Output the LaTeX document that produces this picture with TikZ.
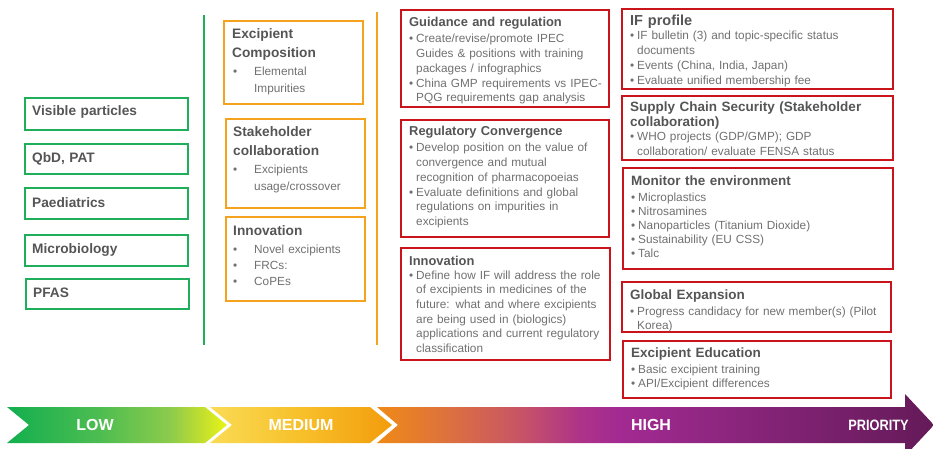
\documentclass[tikz,border=0pt]{standalone}
\usepackage{fontspec}
\setmainfont{Liberation Sans}
\usepackage{graphicx}

\definecolor{prgreen}{HTML}{1FAF5A}
\definecolor{prorange}{HTML}{F5A31F}
\definecolor{prred}{HTML}{C9141C}
\definecolor{ttlgray}{HTML}{555555}
\definecolor{txtgray}{HTML}{707070}
% colours of the priority band
\definecolor{lowA}{HTML}{12AF4F}
\definecolor{lowB}{HTML}{4DBD51}
\definecolor{lowC}{HTML}{8CCB4C}
\definecolor{lowD}{HTML}{C0DE30}
\definecolor{lowE}{HTML}{E8F514}
\definecolor{medA}{HTML}{FADB55}
\definecolor{medB}{HTML}{F7C02A}
\definecolor{medC}{HTML}{F39C0C}
\definecolor{hiA}{HTML}{EF8A16}
\definecolor{hiB}{HTML}{DC7040}
\definecolor{hiC}{HTML}{C75466}
\definecolor{hiD}{HTML}{AE3388}
\definecolor{hiE}{HTML}{A22A92}
\definecolor{hiF}{HTML}{862478}
\definecolor{hiG}{HTML}{641A58}

\pgfdeclarehorizontalshading{lowshade}{100bp}{color(0bp)=(lowA); color(25bp)=(lowA); color(46bp)=(lowB); color(62bp)=(lowC); color(69bp)=(lowD); color(75bp)=(lowE); color(100bp)=(lowE)}
\pgfdeclarehorizontalshading{medshade}{100bp}{color(0bp)=(medA); color(25bp)=(medA); color(50bp)=(medB); color(75bp)=(medC); color(100bp)=(medC)}
\pgfdeclarehorizontalshading{highshade}{100bp}{color(0bp)=(hiA); color(25bp)=(hiA); color(31.6bp)=(hiB); color(37.8bp)=(hiC); color(43.2bp)=(hiD); color(46.8bp)=(hiE); color(59.4bp)=(hiF); color(75bp)=(hiG); color(100bp)=(hiG)}

% one bullet item: bullet, then hanging lines (end each item with \par)
\newcommand\bul[1][7pt]{\hangindent=#1\relax\hangafter=1\relax\makebox[#1][l]{\textbullet}}

\begin{document}
\begin{tikzpicture}[x=1pt,y=-1pt,
    gbox/.style={draw=prgreen,line width=1.6pt},
    obox/.style={draw=prorange,line width=1.6pt},
    rbox/.style={draw=prred,line width=1.6pt},
    ttl/.style={anchor=base west,inner sep=0pt,text width=#1,align=left,text=ttlgray,font=\bfseries\fontsize{12.9}{15}\selectfont},
    ttl/.default=200,
    big/.style={font=\bfseries\fontsize{13.7}{19}\selectfont},
    txt/.style={anchor=base west,inner sep=0pt,text width=#1,align=left,text=txtgray,font=\fontsize{11.8}{14.7}\selectfont},
    txt/.default=260,
    band/.style={text=white,inner sep=0pt,font=\bfseries\fontsize{16}{16}\selectfont}]
  \useasboundingbox (0,0) rectangle (933,449);
  % \draw[step=50, gray, very thin] (0,0) grid (933,449);

  % low
  \draw[gbox] (25,98) rectangle (188,130);
  \node[ttl=150,big] (vis) at (32,116) {Visible particles};
  \draw[gbox] (25,144) rectangle (188,174);
  \node[ttl=150,big] (qbd) at (32,163) {QbD, PAT};
  \draw[gbox] (25,188) rectangle (188,219);
  \node[ttl=150,big] (paed) at (32,207) {Paediatrics};
  \draw[gbox] (25,235) rectangle (188,266);
  \node[ttl=150,big] (micro) at (32,253) {Microbiology};
  \draw[gbox] (26,279) rectangle (189,309);
  \node[ttl=150,big] (pfas) at (33,297) {PFAS};
  \draw[prgreen,line width=2.6pt] (204,15) -- (204,345);

  % medium
  \draw[obox] (224,21) rectangle (363,104);
  \node[ttl=130,big] (compT) at (232,39) {Excipient\\Composition};
  \node[txt=130,font=\fontsize{11.8}{16.5}\selectfont] (compB) at (233,76) {\bul[21pt]Elemental\newline Impurities\par};
  \draw[obox] (226,119) rectangle (365,208);
  \node[ttl=130,big] (stakeT) at (233,137) {Stakeholder\\collaboration};
  \node[txt=130,font=\fontsize{11.8}{16.3}\selectfont] (stakeB) at (233,174) {\bul[21pt]Excipients\newline usage/crossover\par};
  \draw[obox] (226,217) rectangle (365,301);
  \node[ttl=130,big] (innoT) at (233,235) {Innovation};
  \node[txt=130,font=\fontsize{11.8}{16}\selectfont] (innoB) at (233,253) {\bul[21pt]Novel excipients\par \bul[21pt]FRCs:\par \bul[21pt]CoPEs\par};
  \draw[prorange,line width=2.6pt] (377,12) -- (377,345);

  % high, first column
  \draw[rbox] (401,10) rectangle (609,107);
  \node[ttl] (guidT) at (409,27) {Guidance and regulation};
  \node[txt=195] (guidB) at (409,43) {\bul Create/revise/promote IPEC\newline Guides \& positions with training\newline packages / infographics\par
    \bul China GMP requirements vs IPEC-\newline PQG requirements gap analysis\par};
  \draw[rbox] (401,120) rectangle (609,237);
  \node[ttl] (convT) at (409,136) {Regulatory Convergence};
  \node[txt=195] (convB) at (409,152) {\bul Develop position on the value of\newline convergence and mutual\newline recognition of pharmacopoeias\par
    \bul Evaluate definitions and global\newline regulations on impurities in\newline excipients\par};
  \draw[rbox] (401,248) rectangle (610,360);
  \node[ttl] (futT) at (409,265) {Innovation};
  \node[txt=195] (futB) at (409,279) {\bul Define how IF will address the role\newline of excipients in medicines of the\newline future: what and where excipients\newline are being used in (biologics)\newline applications and current regulatory\newline classification\par};

  % high, second column
  \draw[rbox] (622,9) rectangle (893,89);
  \node[ttl=260,font=\bfseries\fontsize{14.5}{16}\selectfont] (ifT) at (630,26) {IF profile};
  \node[txt] (ifB) at (630,40) {\bul IF bulletin (3) and topic-specific status\newline documents\par
    \bul Events (China, India, Japan)\par \bul Evaluate unified membership fee\par};
  \draw[rbox] (622,96) rectangle (893,160);
  \node[ttl=260,font=\bfseries\fontsize{13.5}{15}\selectfont] (supT) at (630,112) {Supply Chain Security (Stakeholder\\collaboration)};
  \node[txt] (supB) at (630,141) {\bul WHO projects (GDP/GMP); GDP\newline collaboration/ evaluate FENSA status\par};
  \draw[rbox] (623,168) rectangle (893,269);
  \node[ttl=260,font=\bfseries\fontsize{13.5}{15}\selectfont] (envT) at (631,185) {Monitor the environment};
  \node[txt,font=\fontsize{11.8}{14.2}\selectfont] (envB) at (631,201) {\bul Microplastics\par \bul Nitrosamines\par
    \bul Nanoparticles (Titanium Dioxide)\par \bul Sustainability (EU CSS)\par \bul Talc\par};
  \draw[rbox] (622,282) rectangle (891,332);
  \node[ttl=260,font=\bfseries\fontsize{13.5}{15}\selectfont] (globT) at (630,299) {Global Expansion};
  \node[txt] (globB) at (630,315) {\bul Progress candidacy for new member(s) (Pilot\newline Korea)\par};
  \draw[rbox] (623,341) rectangle (891,398);
  \node[ttl=260,font=\bfseries\fontsize{13.5}{15}\selectfont] (eduT) at (631,357) {Excipient Education};
  \node[txt] (eduB) at (631,373) {\bul Basic excipient training\par \bul API/Excipient differences\par};

  % priority band
  \shade[shading=lowshade] (7,407) -- (205,407) -- (227,425) -- (205,443) -- (7,443) -- (29,425) -- cycle;
  \shade[shading=medshade] (210,407) -- (370,407) -- (392,425) -- (370,443) -- (210,443) -- (232,425) -- cycle;
  \shade[shading=highshade] (377,407) -- (905,407) -- (905,394) -- (934,425) -- (905,456) -- (905,443) -- (377,443) -- (398,425) -- cycle;
  \node[band] (low) at (95,425) {LOW};
  \node[band] (med) at (301,425) {MEDIUM};
  \node[band] (high) at (651,425) {HIGH};
  \node[band,font=\bfseries\fontsize{15}{15}\selectfont] (prio) at (878.5,425) {\scalebox{0.85}[1]{PRIORITY}};
\end{tikzpicture}
\end{document}
